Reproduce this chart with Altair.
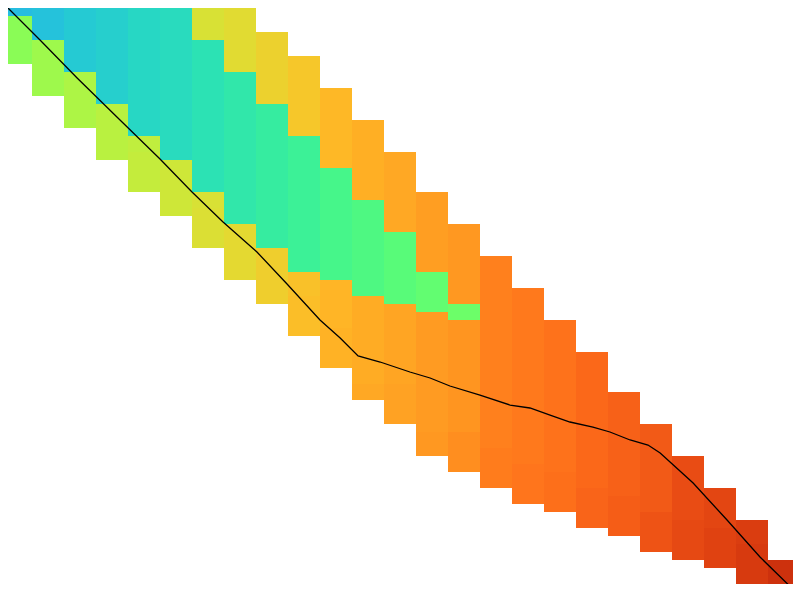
import altair as alt
import pandas as pd

# Column index (each column is one unit wide), segment top/bottom in row units, value (0..1 on turbo)
seg_col = [0, 0,
           1, 1,
           2, 2,
           3, 3,
           4, 4, 4,
           5, 5, 5,
           6, 6, 6, 6,
           7, 7, 7,
           8, 8, 8,
           9, 9, 9, 9,
           10, 10, 10, 10,
           11, 11, 11, 11,
           12, 12, 12, 12,
           13, 13, 13, 13,
           14, 14, 14, 14,
           15, 15, 16, 16, 17, 17, 18, 18, 19, 19,
           20, 20, 21, 21, 22, 22, 23, 23, 24]
seg_top = [0, 2,
           0, 5,
           0, 9,
           0, 13,
           0, 17, 19,
           0, 1, 20,
           0, 5, 24, 26,
           0, 9, 28,
           4, 13, 31,
           7, 17, 34, 37,
           11, 21, 35, 41,
           15, 25, 37, 48,
           19, 29, 38, 48,
           24, 34, 39, 54,
           28, 38, 40, 54,
           32, 56, 36, 58, 40, 59, 44, 61, 49, 62,
           53, 64, 57, 65, 61, 66, 65, 68, 70]
seg_bottom = [2, 8,
              5, 12,
              9, 16,
              13, 20,
              17, 19, 24,
              1, 20, 27,
              5, 24, 26, 31,
              9, 28, 35,
              13, 31, 38,
              17, 34, 37, 42,
              21, 35, 41, 46,
              25, 37, 48, 50,
              29, 38, 48, 53,
              34, 39, 54, 57,
              38, 40, 54, 59,
              56, 61, 58, 63, 59, 64, 61, 66, 62, 67,
              64, 69, 65, 70, 66, 71, 68, 73, 75]
seg_value = [0.255, 0.495,
             0.265, 0.52,
             0.28, 0.54,
             0.29, 0.555,
             0.305, 0.565, 0.57,
             0.59, 0.315, 0.585,
             0.60, 0.33, 0.60, 0.605,
             0.615, 0.345, 0.62,
             0.635, 0.36, 0.64,
             0.655, 0.375, 0.665, 0.67,
             0.68, 0.395, 0.685, 0.69,
             0.695, 0.41, 0.70, 0.705,
             0.705, 0.425, 0.71, 0.715,
             0.72, 0.44, 0.725, 0.73,
             0.73, 0.455, 0.735, 0.745,
             0.765, 0.77, 0.775, 0.78, 0.785, 0.79, 0.80, 0.805, 0.81, 0.815,
             0.82, 0.83, 0.84, 0.845, 0.85, 0.855, 0.865, 0.87, 0.885]

# Black curve (column units, row units)
line_x = [0, 1.25, 2.41, 3.75, 5.0, 6.0, 6.97, 8.03, 8.97, 10.0, 10.63, 11.19,
          11.88, 12.81, 13.44, 14.06, 15.0, 15.94, 16.56, 17.19, 17.81, 18.53,
          19.06, 19.69, 20.25, 20.63, 21.66, 22.72, 23.75, 25.03]
line_y = [0, 5.0, 9.75, 15.0, 19.88, 24.0, 27.75, 31.5, 35.5, 40.0, 42.25, 44.5,
          45.25, 46.5, 47.25, 48.25, 49.38, 50.63, 51.0, 51.88, 52.75, 53.38,
          54.0, 55.0, 55.63, 56.63, 60.38, 65.0, 69.63, 74.63]

cells = pd.DataFrame({
    "x0": seg_col,
    "x1": [c + 1 for c in seg_col],
    "y0": seg_top,
    "y1": seg_bottom,
    "v": seg_value,
})
curve = pd.DataFrame({"x": line_x, "y": line_y, "i": list(range(len(line_x)))})

W, H = 785, 576
xs = alt.Scale(domain=[0.25, 0.25 + W / 32], nice=False, zero=False)
ys = alt.Scale(domain=[1, 1 + H / 8], nice=False, zero=False, reverse=True)

rects = alt.Chart(cells).mark_rect(clip=True, strokeWidth=0).encode(
    x=alt.X("x0:Q", scale=xs, axis=None),
    x2="x1:Q",
    y=alt.Y("y0:Q", scale=ys, axis=None),
    y2="y1:Q",
    color=alt.Color("v:Q", scale=alt.Scale(scheme="turbo", domain=[0, 1]), legend=None),
)

line = alt.Chart(curve).mark_line(color="black", strokeWidth=1.3, clip=True).encode(
    x=alt.X("x:Q", scale=xs, axis=None),
    y=alt.Y("y:Q", scale=ys, axis=None),
    order="i:Q",
)

chart = (
    alt.layer(rects, line)
    .properties(width=W, height=H, padding=0, background="white")
    .configure_view(strokeWidth=0)
)

chart.save("out.html", embed_options={"renderer": "svg", "actions": False})
